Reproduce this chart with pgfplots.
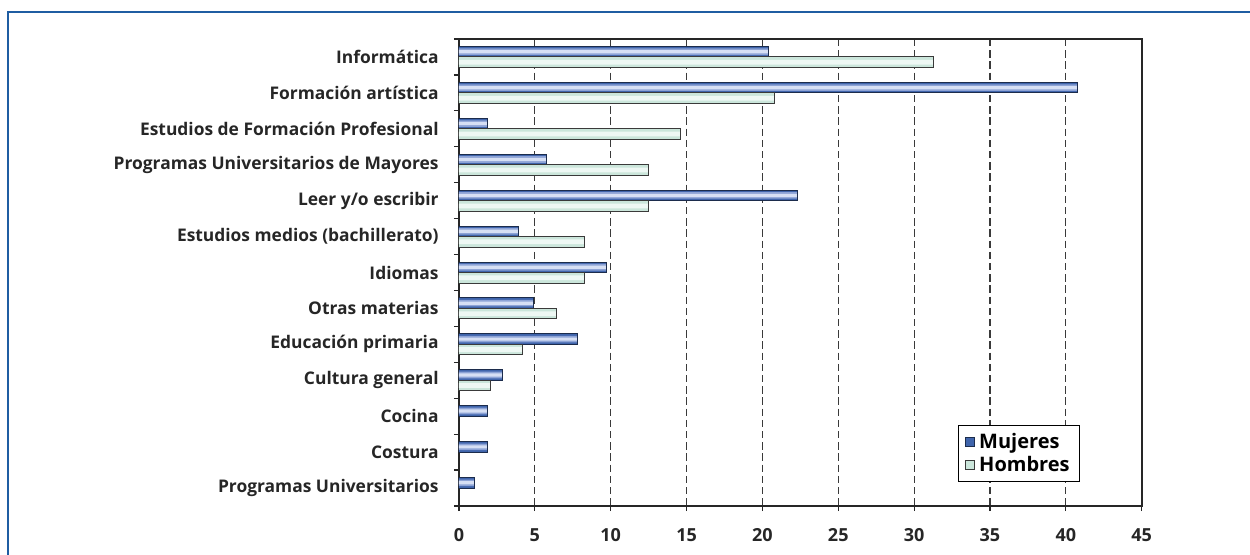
\documentclass[border=0pt]{standalone}
\usepackage{pgfplots}
\pgfplotsset{compat=1.18}
\usepackage{fontspec}
\setmainfont{Open Sans}

\definecolor{framecol}{HTML}{1F5DA2}
\definecolor{axiscol}{HTML}{262626}
\definecolor{gridcol}{HTML}{3A3A3A}
\definecolor{mujA}{HTML}{3F64AB}
\definecolor{mujB}{HTML}{8DA3D6}
\definecolor{mujC}{HTML}{D6DFF4}
\definecolor{mujLine}{HTML}{1C2C4C}
\definecolor{homA}{HTML}{CBE6DB}
\definecolor{homB}{HTML}{EEF8F4}
\definecolor{homLine}{HTML}{3A3A3A}

% Share of each group (%), one row per subject
\pgfplotstableread{
idx mujeres
0   20.4
1   40.8
2   1.9
3   5.8
4   22.3
5   3.9
6   9.7
7   4.9
8   7.8
9   2.9
10  1.9
11  1.9
12  1.0
}\mujeres
\pgfplotstableread{
idx hombres
0   31.3
1   20.8
2   14.6
3   12.5
4   12.5
5   8.3
6   8.3
7   6.4
8   4.2
9   2.1
}\hombres

\begin{document}
\begin{tikzpicture}
% page: 625pt x 277pt, origin at the top-left corner
\useasboundingbox (0pt,0pt) rectangle (625pt,-277pt);
\draw[framecol, line width=0.8pt] (4pt,-285pt) -- (4pt,-6pt) -- (635pt,-6pt);
\begin{axis}[
  at={(229.5pt,-253pt)}, anchor=south west,
  scale only axis,
  width=341.35pt, height=233.5pt,
  xbar, bar width=5.25pt,
  xmin=0, xmax=45,
  ymin=-0.5, ymax=12.5,
  y dir=reverse,
  xtick={0,5,...,45},
  ytick={0,...,12},
  yticklabels={Informática, Formación artística, Estudios de Formación Profesional,
    Programas Universitarios de Mayores, Leer y/o escribir, Estudios medios (bachillerato),
    Idiomas, Otras materias, Educación primaria, Cultura general, Cocina, Costura,
    Programas Universitarios},
  minor ytick={-0.5,0.5,...,12.5},
  major y tick style={draw=none},
  minor y tick style={draw=axiscol, line width=0.6pt},
  major x tick style={draw=axiscol, line width=0.6pt},
  tick align=outside,
  major tick length=2.5pt, minor tick length=2.5pt,
  xtick pos=bottom, ytick pos=left,
  xmajorgrids,
  major grid style={gridcol, line width=0.6pt, dash pattern=on 3.7pt off 1.9pt},
  axis line style={axiscol, line width=0.9pt},
  /pgf/number format/assume math mode=true,
  ticklabel style={text=black!85},
  yticklabel style={font=\bfseries\fontsize{8.7}{10}\selectfont, inner sep=0pt, xshift=-7.5pt},
  xticklabel style={font=\bfseries\fontsize{9}{10}\selectfont, inner sep=0pt, yshift=-8.5pt},
  legend style={at={(0.731,0.173)}, anchor=north west, draw=black, line width=0.6pt,
    font=\bfseries\fontsize{10}{11}\selectfont, row sep=-1.5pt,
    inner xsep=3pt, inner ysep=1.5pt},
  legend cell align=left,
  legend image code/.code={\draw[#1] (0pt,-2.4pt) rectangle (4.8pt,2.4pt);},
]
% women: base bar plus lighter inner strips for the rounded look
\addplot[bar shift=2.625pt, fill=mujA, draw=mujLine, line width=0.5pt]
  table[x=mujeres, y=idx] {\mujeres};
\addlegendentry{Mujeres}
\addplot[forget plot, bar shift=2.625pt, bar width=3.3pt, fill=mujB, draw=none]
  table[x=mujeres, y=idx] {\mujeres};
\addplot[forget plot, bar shift=2.625pt, bar width=1.6pt, fill=mujC, draw=none]
  table[x=mujeres, y=idx] {\mujeres};
\addplot[forget plot, bar shift=2.625pt, fill=none, draw=mujLine, line width=0.5pt]
  table[x=mujeres, y=idx] {\mujeres};
% men
\addplot[bar shift=-2.625pt, fill=homA, draw=homLine, line width=0.5pt]
  table[x=hombres, y=idx] {\hombres};
\addlegendentry{Hombres}
\addplot[forget plot, bar shift=-2.625pt, bar width=2.4pt, fill=homB, draw=none]
  table[x=hombres, y=idx] {\hombres};
\addplot[forget plot, bar shift=-2.625pt, fill=none, draw=homLine, line width=0.5pt]
  table[x=hombres, y=idx] {\hombres};
\end{axis}
\end{tikzpicture}
\end{document}
